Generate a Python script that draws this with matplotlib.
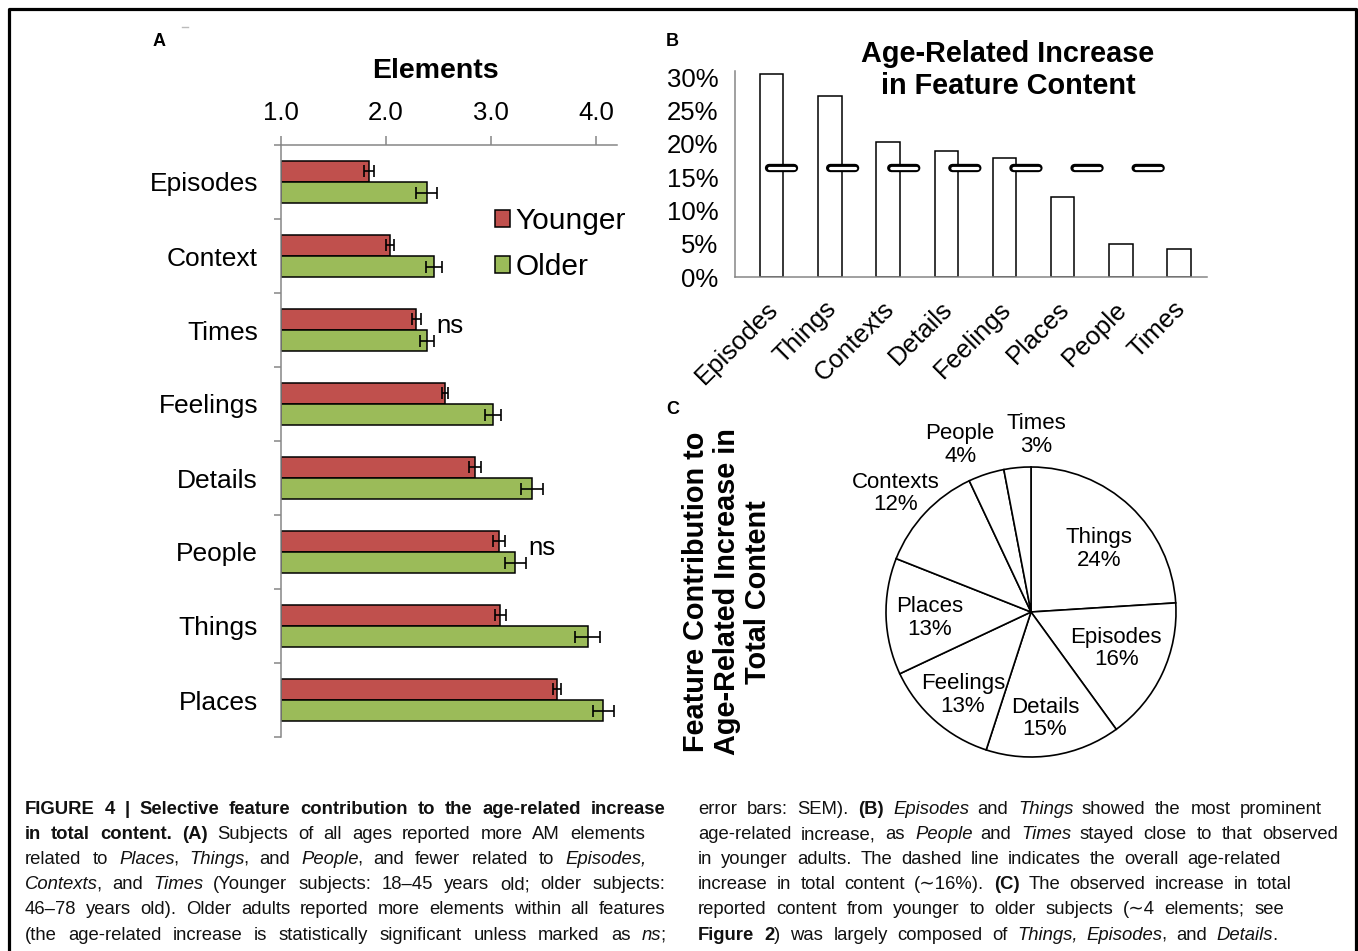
import numpy as np
import matplotlib
matplotlib.use('Agg')
import matplotlib.pyplot as plt
from matplotlib.lines import Line2D
from matplotlib.patches import Patch
from matplotlib.transforms import IdentityTransform, ScaledTranslation

plt.rcParams['font.family'] = ['Liberation Sans', 'DejaVu Sans']

# ---- panel A: elements per feature ----
categories_a = ['Episodes', 'Context', 'Times', 'Feelings', 'Details', 'People', 'Things', 'Places']
younger = [1.84, 2.04, 2.29, 2.56, 2.85, 3.08, 3.09, 3.63]
younger_err = [0.045, 0.04, 0.04, 0.03, 0.057, 0.057, 0.054, 0.04]
older = [2.39, 2.46, 2.39, 3.02, 3.39, 3.23, 3.92, 4.07]
older_err = [0.10, 0.077, 0.067, 0.076, 0.108, 0.10, 0.117, 0.10]
not_significant = [False, False, True, False, False, True, False, False]
x_ticks_a = [1.0, 2.0, 3.0, 4.0]

# ---- panel B: age-related increase ----
categories_b = ['Episodes', 'Things', 'Contexts', 'Details', 'Feelings', 'Places', 'People', 'Times']
increase_pct = [30.5, 27.2, 20.3, 19.0, 17.85, 12.1, 4.95, 4.25]
overall_pct = 16.45
y_ticks_b = [0, 5, 10, 15, 20, 25, 30]

# ---- panel C: contribution to total increase ----
pie_labels = ['Things', 'Episodes', 'Details', 'Feelings', 'Places', 'Contexts', 'People', 'Times']
pie_pct = [24, 16, 15, 13, 13, 12, 4, 3]

W, H = 1358, 951
fig = plt.figure(figsize=(W / 100, H / 100), dpi=100)
gray = '#868686'
red = '#C0504D'
green = '#9BBB59'


def rect(l, t, r, b):
    return [l / W, 1 - b / H, (r - l) / W, (b - t) / H]


# frame around figure
fig.add_artist(Line2D([9 / W, 9 / W, 1356 / W, 1356 / W], [-0.01, 1 - 9 / H, 1 - 9 / H, -0.01],
                      transform=fig.transFigure, color='black', lw=2.3))
fig.add_artist(Line2D([182 / W, 188 / W], [1 - 27 / H, 1 - 27 / H], transform=fig.transFigure,
                      color='#bbbbbb', lw=1))

# ================= A =================
axA = fig.add_axes(rect(281, 145, 617, 737))
n = len(categories_a)
pos = np.arange(n)
hgt = 0.284
axA.barh(pos - hgt / 2, np.array(younger) - 1.0, left=1.0, height=hgt, color=red,
         edgecolor='black', lw=1.1, xerr=younger_err,
         error_kw=dict(ecolor='black', capsize=4.5, elinewidth=1.2, capthick=1.2))
axA.barh(pos + hgt / 2, np.array(older) - 1.0, left=1.0, height=hgt, color=green,
         edgecolor='black', lw=1.1, xerr=older_err,
         error_kw=dict(ecolor='black', capsize=4.5, elinewidth=1.2, capthick=1.2))
for i in range(n):
    if not_significant[i]:
        axA.annotate('ns', (older[i] + older_err[i], i - 0.05), xytext=(2, 0),
                     textcoords='offset points', ha='left', va='center', fontsize=18.5)
axA.set_xlim(1.0, 4.2)
axA.set_ylim(n - 0.5, -0.5)
axA.xaxis.tick_top()
axA.set_xticks(x_ticks_a)
axA.set_xticklabels(['%.1f' % v for v in x_ticks_a], fontsize=18.5)
axA.tick_params(axis='x', direction='out', length=6.5, width=1.1, color=gray, pad=8)
axA.set_yticks(np.arange(n + 1) - 0.5)
axA.set_yticklabels([])
axA.set_yticks(pos, minor=True)
axA.set_yticklabels(categories_a, minor=True, fontsize=19)
axA.tick_params(axis='y', which='major', direction='out', length=5, width=1.1, color=gray)
axA.tick_params(axis='y', which='minor', length=0, pad=16.5)
for s in ['bottom', 'right']:
    axA.spines[s].set_visible(False)
for s in ['top', 'left']:
    axA.spines[s].set_color(gray)
    axA.spines[s].set_linewidth(1.1)
fig.text(435 / W, 1 - 71 / H, 'Elements', fontsize=20.5, fontweight='bold', ha='center', va='center')
handles = [Patch(facecolor=red, edgecolor='black', lw=1.1, label='Younger'),
           Patch(facecolor=green, edgecolor='black', lw=1.1, label='Older')]
axA.legend(handles=handles, loc='upper left', bbox_to_anchor=(480 / W, 1 - 192 / H),
           bbox_transform=fig.transFigure, frameon=False, fontsize=21.5, borderpad=0,
           handlelength=0.5, handleheight=0.5, handletextpad=0.2, labelspacing=0.6)

# ================= B =================
ylim_top = 31.0
axB = fig.add_axes(rect(735, 277.3 - ylim_top * 200 / 30, 1207, 277.3))
xb = np.arange(len(categories_b))
axB.bar(xb, increase_pct, width=0.4, color='white', edgecolor='black', lw=1.1)
line_x = np.array([-0.05, 6.85])
for lw, col in [(6.0, 'black'), (2.3, 'white')]:
    ln, = axB.plot(line_x, [overall_pct, overall_pct], color=col, lw=lw,
                   solid_capstyle='round', dash_capstyle='round')
    ln.set_dashes([18 / lw, 26 / lw])
axB.set_xlim(-0.63, 7.48)
axB.set_ylim(0, ylim_top)
axB.set_yticks(y_ticks_b)
axB.set_yticklabels(['%d%%' % v for v in y_ticks_b], fontsize=18.5)
axB.tick_params(axis='y', length=0, pad=12)
axB.set_xticks(xb)
axB.set_xticklabels(categories_b, fontsize=18.5, rotation=45, ha='right', va='top',
                    rotation_mode='anchor')
axB.tick_params(axis='x', length=0, pad=14)
for lab in axB.get_xticklabels():
    lab.set_transform(lab.get_transform() + ScaledTranslation(-6 / 100, 0, fig.dpi_scale_trans))
for s in ['top', 'right']:
    axB.spines[s].set_visible(False)
for s in ['left', 'bottom']:
    axB.spines[s].set_color(gray)
    axB.spines[s].set_linewidth(1.1)
fig.text(1008 / W, 1 - 70 / H, 'Age-Related Increase\nin Feature Content', fontsize=20.8,
         fontweight='bold', ha='center', va='center', linespacing=1.22)

# ================= C =================
side = 400
cx, cy, R = 1031, 612, 145
axC = fig.add_axes(rect(cx - side / 2, cy - side / 2, cx + side / 2, cy + side / 2))
lim = side / (2 * R)
wedges, _ = axC.pie(pie_pct, startangle=90, counterclock=False, radius=1.0,
                    colors=['white'] * len(pie_pct),
                    wedgeprops=dict(edgecolor='black', linewidth=1.2))
label_r = [0.64, 0.64, 0.74, 0.74, 0.70, 1.24, 1.25, 1.22]
label_dang = [-4, 2, -1.5, 2, 1.6, 2, 5, -7]
for w, name, pct, r, da in zip(wedges, pie_labels, pie_pct, label_r, label_dang):
    ang = np.radians((w.theta1 + w.theta2) / 2 + da)
    axC.text(r * np.cos(ang), r * np.sin(ang), '%s\n%d%%' % (name, pct), fontsize=16,
             ha='center', va='center', linespacing=1.1)
axC.set_xlim(-lim, lim)
axC.set_ylim(-lim, lim)
axC.axis('off')
fig.text(727 / W, 1 - 592 / H, 'Feature Contribution to\nAge-Related Increase in\nTotal Content',
         fontsize=20.8, fontweight='bold', rotation=90, ha='center', va='center',
         multialignment='center', linespacing=1.12)

# panel letters
for letter, (x, y) in zip('ABC', [(159, 42), (672, 42), (673, 409)]):
    fig.text(x / W, 1 - y / H, letter, fontsize=13, fontweight='bold', ha='center', va='center')

# ================= caption =================
left_lines = [
    '*FIGURE 4 | Selective feature contribution to the age-related increase*',
    '*in total content.* *(A)* Subjects of all ages reported more AM elements',
    'related to _Places_, _Things_, and _People_, and fewer related to _Episodes,_',
    '_Contexts_, and _Times_ (Younger subjects: 18\u201345 years old; older subjects:',
    '46\u201378 years old). Older adults reported more elements within all features',
    '(the age-related increase is statistically significant unless marked as _ns_;',
]
left_ends = [665, 645, 645, 665, 665, 665]
right_lines = [
    'error bars: SEM). *(B)* _Episodes_ and _Things_ showed the most prominent',
    'age-related increase, as _People_ and _Times_ stayed close to that observed',
    'in younger adults. The dashed line indicates the overall age-related',
    'increase in total content (\u223c16%). *(C)* The observed increase in total',
    'reported content from younger to older subjects (\u223c4 elements; see',
    '*Figure 2*) was largely composed of _Things, Episodes_, and _Details_.',
]
right_ends = [1322, 1338, 1281, 1292, 1284, 1277]
baselines = [814, 839, 864, 889, 914, 940]
renderer = fig.canvas.get_renderer()


def parse(line):
    words, cur, buf = [], [], ''
    bold = italic = False
    for ch in line + ' ':
        if ch in '*_ ':
            if buf:
                cur.append((buf, bold, italic))
                buf = ''
            if ch == '*':
                bold = not bold
            elif ch == '_':
                italic = not italic
            elif cur:
                words.append(cur)
                cur = []
        else:
            buf += ch
    return words


def caption_line(x0, x1, ybase, line, fs=13.3):
    words = parse(line)
    placed = []
    for w in words:
        runs = []
        for txt, b, it in w:
            t = fig.text(0, 0, txt, fontsize=fs, fontweight='bold' if b else 'normal',
                         fontstyle='italic' if it else 'normal', ha='left', va='baseline',
                         transform=IdentityTransform(), color='#111111')
            wd = t.get_window_extent(renderer).width - (1.5 if it else 0.0)
            runs.append((t, wd))
        placed.append(runs)
    total = sum(wd for runs in placed for _, wd in runs)
    gap = max((x1 - x0 - total) / max(len(placed) - 1, 1), 2.5)
    x = x0
    for runs in placed:
        for t, wd in runs:
            t.set_position((x, H - ybase))
            x += wd
        x += gap


for line, end, yb in zip(left_lines, left_ends, baselines):
    caption_line(25, end, yb, line)
for line, end, yb in zip(right_lines, right_ends, baselines):
    caption_line(698, end, yb, line)

fig.savefig('out.png', dpi=100)
